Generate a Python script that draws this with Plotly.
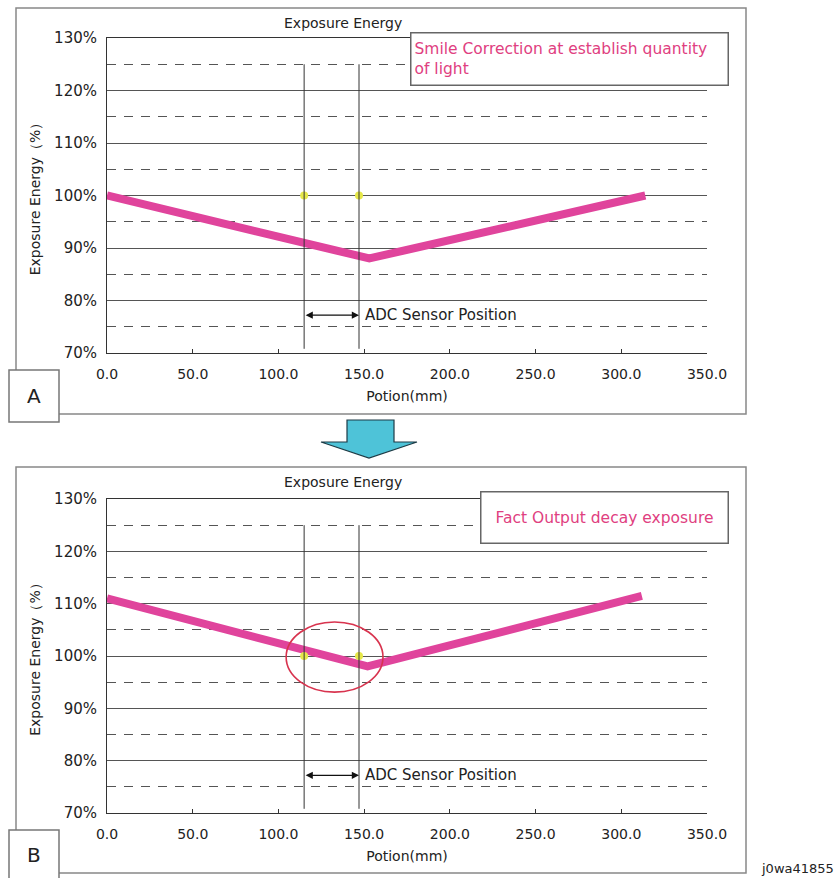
import plotly.graph_objects as go

# ---------------- data ----------------
positions_A = [0, 153, 314]          # mm
energy_A = [100, 88, 100]            # %
positions_B = [0, 152, 312]          # mm
energy_B = [111, 98, 111.5]          # %
sensor_mm = [115, 147]               # ADC sensor positions
sensor_energy = [100, 100]
x_ticks = [0, 50, 100, 150, 200, 250, 300, 350]
x_tick_labels = ["0.0", "50.0", "100.0", "150.0", "200.0", "250.0", "300.0", "350.0"]
y_ticks = [70, 80, 90, 100, 110, 120, 130]
y_tick_labels = ["70%", "80%", "90%", "100%", "110%", "120%", "130%"]
circle_x = [104.5, 161]              # red ellipse extent (mm)
circle_y = [93.1, 106.5]             # red ellipse extent (%)

W, H = 839, 878
PINK = "#E0449C"
YELLOW = "#E6E84A"
GRID = "#555555"
TXT = "#222222"
FONT = "DejaVu Sans"


def px(x):
    return x / W


def py(y):
    return 1 - y / H


fig = go.Figure()

fig.add_trace(go.Scatter(x=positions_A, y=energy_A, mode="lines",
                         line=dict(color=PINK, width=8), xaxis="x", yaxis="y",
                         showlegend=False, hoverinfo="skip"))
fig.add_trace(go.Scatter(x=sensor_mm, y=sensor_energy, mode="markers",
                         marker=dict(color=YELLOW, size=8), xaxis="x", yaxis="y",
                         showlegend=False, hoverinfo="skip"))
fig.add_trace(go.Scatter(x=positions_B, y=energy_B, mode="lines",
                         line=dict(color=PINK, width=8), xaxis="x2", yaxis="y2",
                         showlegend=False, hoverinfo="skip"))
fig.add_trace(go.Scatter(x=sensor_mm, y=sensor_energy, mode="markers",
                         marker=dict(color=YELLOW, size=8), xaxis="x2", yaxis="y2",
                         showlegend=False, hoverinfo="skip"))

xdom = [px(107), px(707)]
xcommon = dict(range=[0, 350], tickmode="array", tickvals=x_ticks, ticktext=x_tick_labels,
               showline=True, mirror=True, linecolor="#333", linewidth=1,
               ticks="inside", ticklen=4, tickcolor="#333",
               showgrid=False, zeroline=False, ticklabelstandoff=8, automargin=False,
               tickfont=dict(family=FONT, size=14, color=TXT),
               title=dict(text="Potion(mm)", font=dict(family=FONT, size=14, color=TXT), standoff=10),
               fixedrange=True, domain=xdom)
ycommon = dict(range=[70, 130], tickmode="array", tickvals=y_ticks, ticktext=y_tick_labels,
               showline=True, linecolor="#333", linewidth=1,
               ticks="", showgrid=True, gridcolor=GRID, gridwidth=1,
               minor=dict(dtick=5, tick0=0, showgrid=True, gridcolor=GRID,
                          griddash="9px,8px", gridwidth=1),
               zeroline=False, ticklabelstandoff=6, automargin=False,
               tickfont=dict(family=FONT, size=15, color=TXT),
               title=dict(text="Exposure Energy（%）", font=dict(family=FONT, size=14, color=TXT), standoff=10),
               fixedrange=True)

fig.update_layout(
    width=W, height=H, autosize=False,
    margin=dict(l=0, r=0, t=0, b=0, pad=0),
    paper_bgcolor="white", plot_bgcolor="white",
    xaxis=dict(xcommon, anchor="y"),
    yaxis=dict(ycommon, anchor="x", domain=[py(353), py(38)]),
    xaxis2=dict(xcommon, anchor="y2"),
    yaxis2=dict(ycommon, anchor="x2", domain=[py(813), py(499)]),
)

shapes = []
for top, bot in [(8, 414), (467, 873)]:
    shapes.append(dict(type="rect", xref="paper", yref="paper",
                       x0=px(16), x1=px(746), y0=py(bot), y1=py(top),
                       line=dict(color="#888", width=1.5), layer="below"))
for top, bot in [(370, 422), (830, 880)]:
    shapes.append(dict(type="rect", xref="paper", yref="paper",
                       x0=px(9), x1=px(59), y0=py(bot), y1=py(top),
                       line=dict(color="#777", width=1.5), fillcolor="white"))
for xa, ya in [("x", "y"), ("x2", "y2")]:
    for s in sensor_mm:
        shapes.append(dict(type="line", xref=xa, yref=ya, x0=s, x1=s, y0=70.8, y1=125,
                           line=dict(color="#333", width=1)))
shapes.append(dict(type="circle", xref="x2", yref="y2",
                   x0=circle_x[0], x1=circle_x[1], y0=circle_y[0], y1=circle_y[1],
                   line=dict(color="#D8334E", width=1.6)))
pts = [(347, 420), (394, 420), (394, 442), (417, 442), (369, 458), (321, 442), (347, 442)]
path = "M " + " L ".join(f"{px(a):.5f},{py(b):.5f}" for a, b in pts) + " Z"
shapes.append(dict(type="path", xref="paper", yref="paper", path=path,
                   fillcolor="#4EC3D8", line=dict(color="#1d3b46", width=1.2)))
fig.update_layout(shapes=shapes)

ann = []
for top in [23, 482]:
    ann.append(dict(text="Exposure Energy", xref="paper", yref="paper",
                    x=px(343), y=py(top), xanchor="center", yanchor="middle", showarrow=False,
                    font=dict(family=FONT, size=14, color=TXT)))
for yc, lab in [(396, "A"), (855, "B")]:
    ann.append(dict(text=lab, xref="paper", yref="paper", x=px(34), y=py(yc),
                    xanchor="center", yanchor="middle",
                    showarrow=False, font=dict(family=FONT, size=20, color=TXT)))
ann.append(dict(text="Smile Correction at establish quantity<br>of light",
                xref="paper", yref="paper", x=px(410), y=py(32),
                xanchor="left", yanchor="top", align="left", showarrow=False,
                width=310, height=45, borderpad=3, bordercolor="#666", borderwidth=1.5,
                bgcolor="white", font=dict(family=FONT, size=15.5, color="#E0407F")))
ann.append(dict(text="Fact Output decay exposure",
                xref="paper", yref="paper", x=px(480), y=py(491),
                xanchor="left", yanchor="top", align="center", showarrow=False,
                width=240, height=44, borderpad=3, bordercolor="#666", borderwidth=1.5,
                bgcolor="white", font=dict(family=FONT, size=15.5, color="#E0407F")))
for xa, ya in [("x", "y"), ("x2", "y2")]:
    ann.append(dict(text="", xref=xa, yref=ya, x=sensor_mm[1], y=77.2,
                    ax=sensor_mm[0], ay=77.2, axref=xa, ayref=ya,
                    showarrow=True, arrowside="end+start", arrowhead=2,
                    arrowsize=1.2, arrowwidth=1.2, arrowcolor="#111"))
    ann.append(dict(text="ADC Sensor Position", xref=xa, yref=ya, x=sensor_mm[1], y=77.2,
                    xanchor="left", yanchor="middle", xshift=4, showarrow=False,
                    font=dict(family=FONT, size=15, color=TXT)))
ann.append(dict(text="j0wa41855", xref="paper", yref="paper", x=px(836), y=py(868),
                xanchor="right", yanchor="middle", showarrow=False,
                font=dict(family=FONT, size=13, color=TXT)))
fig.update_layout(annotations=ann)

fig.write_html("out.html", config={"displayModeBar": False},
               post_script="document.body.style.margin='0';document.body.style.overflow='hidden';")
